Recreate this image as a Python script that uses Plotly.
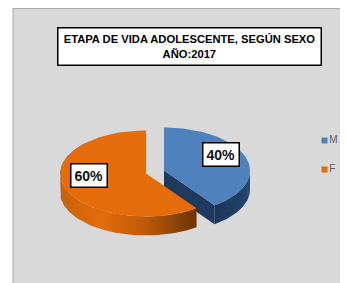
import numpy as np
import plotly.graph_objects as go

# ---- data ----
labels = ["M", "F"]
shares = [40, 60]
top_colors = ["#4f81bd", "#e46c0a"]
side_colors = ["#1f3a5f", "#c85f0a"]
title_lines = ["ETAPA DE VIDA ADOLESCENTE, SEGÚN SEXO", "AÑO:2017"]

# ---- geometry (axis units = window pixels; page body has an 8px margin) ----
W, H = 348, 283
OFF = 8
CX, CY = 155, 172
RX, RY = 86, 43
DEPTH = 19
EXPLODE = 0.11
N = 80

def pt(cx, cy, th):
    r = np.radians(th)
    return cx + RX * np.sin(r), cy - RY * np.cos(r)

def arc(cx, cy, a, b, dy=0.0):
    th = np.linspace(a, b, N)
    x, y = pt(cx, cy, th)
    return list(x), list(y + dy)

total = float(sum(shares))
slices = []
cum = 0.0
for lab, v, tc, sc in zip(labels, shares, top_colors, side_colors):
    a0 = 360 * cum / total
    a1 = 360 * (cum + v) / total
    mid = (a0 + a1) / 2
    cx = CX + EXPLODE * RX * np.sin(np.radians(mid))
    cy = CY - EXPLODE * RY * np.cos(np.radians(mid))
    slices.append(dict(lab=lab, v=v, a0=a0, a1=a1, mid=mid, cx=cx, cy=cy, tc=tc, sc=sc))
    cum += v

fig = go.Figure()

def poly(xs, ys, color, grad=None):
    kw = dict(x=xs + [xs[0]], y=ys + [ys[0]], mode="lines", fill="toself",
              fillcolor=color, line=dict(width=0, color=color),
              hoverinfo="skip", showlegend=False)
    if grad is not None:
        kw["fillgradient"] = dict(type="horizontal", colorscale=grad)
    fig.add_trace(go.Scatter(**kw))

orange_grad = [[0, "#c9600a"], [0.3, "#e36c0a"], [0.6, "#c25b08"], [1, "#6b3306"]]
blue_grad = [[0, "#1c3557"], [0.7, "#213f66"], [1, "#2a4a73"]]

for s in sorted(slices, key=lambda d: d["cy"]):
    cx, cy = s["cx"], s["cy"]
    grad = orange_grad if s["lab"] == "F" else blue_grad
    for a, visible in ((s["a0"], np.sin(np.radians(s["a0"])) < -1e-9),
                       (s["a1"], np.sin(np.radians(s["a1"])) > 1e-9)):
        if visible:
            px, py = pt(cx, cy, a)
            poly([cx, px, px, cx], [cy, py, py + DEPTH, cy + DEPTH], s["sc"])
    lo, hi = max(s["a0"], 90), min(s["a1"], 270)
    if hi > lo:
        tx, ty = arc(cx, cy, lo, hi)
        bx, by = arc(cx, cy, hi, lo, DEPTH)
        poly(tx + bx, ty + by, s["sc"], grad)
    ax, ay = arc(cx, cy, s["a0"], s["a1"])
    poly([cx] + ax, [cy] + ay, s["tc"])

annotations = []
for s in slices:
    lx = s["cx"] + 0.7 * RX * np.sin(np.radians(s["mid"]))
    ly = s["cy"] - 0.7 * RY * np.cos(np.radians(s["mid"])) - 7
    annotations.append(dict(x=lx, y=ly, xref="x", yref="y", text=f"<b>{s['v']}%</b>", showarrow=False,
                            font=dict(family="Liberation Sans, Arial", size=14, color="#111111"),
                            bgcolor="white", bordercolor="black", borderwidth=1.5, borderpad=3))

annotations.append(dict(x=189, y=46, xref="x", yref="y", text="<b>" + "<br>".join(title_lines) + "</b>",
                        showarrow=False, width=260, height=34, align="center",
                        font=dict(family="Liberation Sans, Arial", size=11.2, color="black"),
                        bgcolor="white", bordercolor="black", borderwidth=1.5, borderpad=1))

fig.add_trace(go.Scatter(x=[324.5, 324.5], y=[140.5, 169.5], mode="markers+text", text=labels,
                         textposition="middle right",
                         textfont=dict(family="Liberation Sans, Arial", size=10, color="#595959"),
                         marker=dict(symbol="square", size=6, color=top_colors),
                         hoverinfo="skip", showlegend=False))

fig.update_layout(
    width=W, height=H, margin=dict(l=0, r=0, t=0, b=0),
    paper_bgcolor="white", plot_bgcolor="white",
    xaxis=dict(range=[OFF, W + OFF], visible=False, fixedrange=True),
    yaxis=dict(range=[H + OFF, OFF], visible=False, fixedrange=True),
    shapes=[dict(type="rect", xref="x", yref="y", x0=13, y0=8.6, x1=W + 20, y1=H + 20,
                 fillcolor="#d9d9d9", line=dict(color="#a6a6a6", width=1), layer="below")],
    annotations=annotations,
)

fig.write_html("out.html")
